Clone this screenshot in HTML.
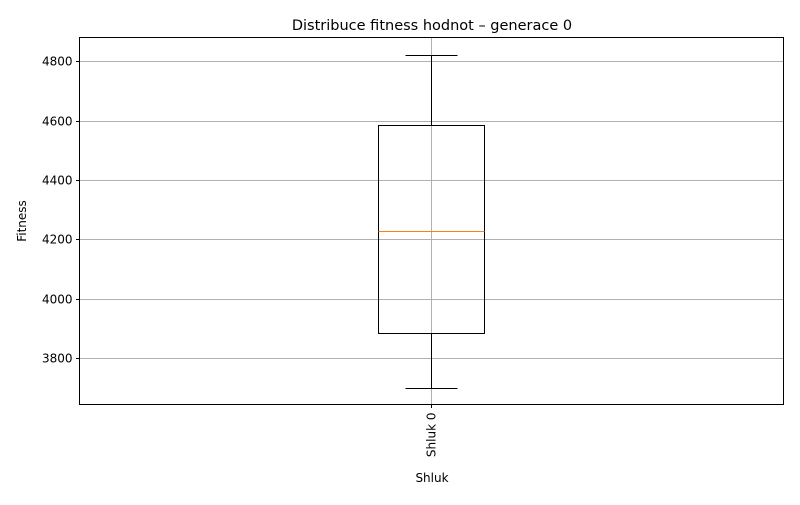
<!DOCTYPE html>
<html><head><meta charset="utf-8"><style>
body{margin:0;background:#fff;}
svg text{font-family:"DejaVu Sans","Liberation Sans",sans-serif;fill:#000;}
</style></head><body>
<svg id="chart" width="800" height="500" xmlns="http://www.w3.org/2000/svg">
<rect width="800" height="500" fill="#fff"/>
<text x="432" y="30" font-size="14.5" text-anchor="middle">Distribuce fitness hodnot – generace 0</text>
<g id="grid"></g>
<g id="marks"></g>
<rect x="79.5" y="37.5" width="704" height="367" fill="none" stroke="#000" stroke-width="1"/>
<g id="axes"></g>
<text x="0" y="0" font-size="12" text-anchor="middle" transform="translate(26,221) rotate(-90)">Fitness</text>
<text x="432" y="482" font-size="12" text-anchor="middle">Shluk</text>
</svg>
<script>
const categories = ["Shluk 0"];
const q1 = [3885];
const median = [4228];
const q3 = [4587];
const whiskerLow = [3698];
const whiskerHigh = [4823];
const yTicks = [3800, 4000, 4200, 4400, 4600, 4800];

const NS = "http://www.w3.org/2000/svg";
const L = 79.5, R = 783.5, T = 37.5, B = 404.5;
const yMin = 3645, yMax = 4882;
function y(v){ return Math.round(B - (v - yMin) / (yMax - yMin) * (B - T) - 0.5) + 0.5; }
function x(i){ return Math.round(L + (i + 0.5) * (R - L) / categories.length - 0.5) + 0.5; }
function mk(tag, attrs, parent){ const e = document.createElementNS(NS, tag); for (const k in attrs) e.setAttribute(k, attrs[k]); parent.appendChild(e); return e; }
const grid = document.getElementById('grid'), axes = document.getElementById('axes'), marks = document.getElementById('marks');

yTicks.forEach(t => {
  const yy = y(t);
  const g = mk('line', {x1: L, x2: R, y1: yy, y2: yy, stroke: '#b0b0b0', 'stroke-width': 1}, grid);
  
  
  const tk = mk('line', {x1: L - 3.5, x2: L, y1: yy, y2: yy, stroke: '#000', 'stroke-width': 1}, axes);
  
  
  const tx = mk('text', {x: L - 7, y: yy + 4, 'font-size': 12, 'text-anchor': 'end'}, axes);
  tx.textContent = t;
  
  
});

categories.forEach((c, i) => {
  const cx = x(i);
  const g = mk('line', {x1: cx, x2: cx, y1: T, y2: B, stroke: '#b0b0b0', 'stroke-width': 1}, grid);
  
  
  const tk = mk('line', {x1: cx, x2: cx, y1: B, y2: B + 3.5, stroke: '#000', 'stroke-width': 1}, axes);
  
  
  const tx = mk('text', {x: 0, y: 0, 'font-size': 12, 'text-anchor': 'end', transform: `translate(${cx + 4},${B + 8}) rotate(-90)`}, axes);
  tx.textContent = c;
  
  

  const hw = 53, cw = 26;
  const w1 = mk('line', {x1: cx, x2: cx, y1: y(q3[i]), y2: y(whiskerHigh[i]), stroke: '#000', 'stroke-width': 1}, marks);
  
  
  const w2 = mk('line', {x1: cx, x2: cx, y1: y(q1[i]), y2: y(whiskerLow[i]), stroke: '#000', 'stroke-width': 1}, marks);
  
  
  const c1 = mk('line', {x1: cx - cw, x2: cx + cw, y1: y(whiskerHigh[i]), y2: y(whiskerHigh[i]), stroke: '#000', 'stroke-width': 1}, marks);
  
  
  const c2 = mk('line', {x1: cx - cw, x2: cx + cw, y1: y(whiskerLow[i]), y2: y(whiskerLow[i]), stroke: '#000', 'stroke-width': 1}, marks);
  
  
  const box = mk('rect', {x: cx - hw, y: y(q3[i]), width: 2 * hw, height: y(q1[i]) - y(q3[i]), fill: 'none', stroke: '#000', 'stroke-width': 1}, marks);
  
  
  const m = mk('line', {x1: cx - hw, x2: cx + hw, y1: y(median[i]), y2: y(median[i]), stroke: '#ff7f0e', 'stroke-width': 1}, marks);
  
  
});
</script>
</body></html>
